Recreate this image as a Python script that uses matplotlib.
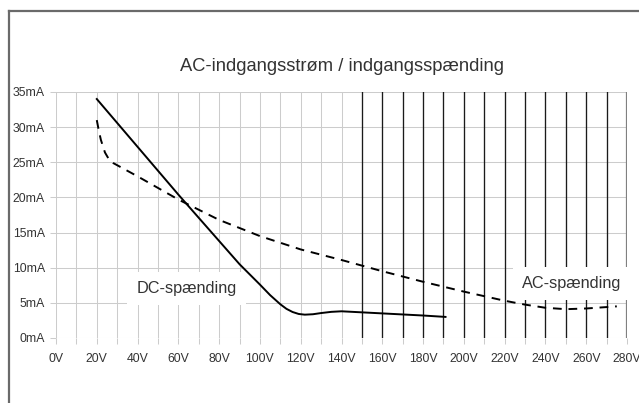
import matplotlib.pyplot as plt
from matplotlib.lines import Line2D
import numpy as np

plt.rcParams['font.family'] = ['Liberation Sans', 'DejaVu Sans']

# input current vs. input voltage, DC and AC supply
dc_volt = [20, 40, 60, 80, 90, 100, 105, 110, 113, 116, 119, 122, 126, 130, 135, 140,
           160, 180, 191]
dc_ma = [34, 27.2, 20.4, 13.8, 10.5, 7.6, 6.1, 4.8, 4.15, 3.7, 3.42, 3.32, 3.38, 3.55,
         3.72, 3.8, 3.5, 3.2, 3.0]

ac_volt = [20, 21, 22, 24, 26, 28, 40, 60, 80, 100, 120, 140, 160, 180, 200, 220, 230,
           240, 250, 260, 275]
ac_ma = [31, 29.5, 28.2, 26.4, 25.4, 24.9, 23, 19.7, 16.8, 14.5, 12.6, 11.1, 9.5, 8.0,
         6.6, 5.3, 4.75, 4.3, 4.1, 4.2, 4.5]

x_major = list(range(0, 281, 20))
x_minor = list(range(10, 280, 20))
y_ticks = list(range(0, 36, 5))
dark_lines = list(range(150, 271, 10))

title = 'AC-indgangsstrøm / indgangsspænding'
dc_label = 'DC-spænding'
ac_label = 'AC-spænding'

txt = '#333333'
light = '#cccccc'

fig = plt.figure(figsize=(6.39, 4.03), dpi=100)
ax = fig.add_axes([56 / 639, 65 / 403, 571 / 639, 246 / 403])

ax.set_xlim(0, 280)
ax.set_ylim(0, 35)
ax.set_xticks(x_major)
ax.set_xticks(x_minor, minor=True)
ax.set_xticklabels([f'{v}V' for v in x_major])
ax.set_yticks(y_ticks)
ax.set_yticklabels([f'{v}mA' for v in y_ticks])
ax.tick_params(which='both', length=4, width=0.75, color=light, labelcolor=txt,
               labelsize=8.8)
ax.tick_params(axis='x', pad=7)
ax.tick_params(axis='y', pad=4)
ax.grid(which='both', color=light, linewidth=0.75)
for s in ax.spines.values():
    s.set_visible(False)

for v in dark_lines:
    ax.axvline(v, color='#1a1a1a', linewidth=0.95, zorder=1.5)
ax.axvline(280, color='#808080', linewidth=1.6, zorder=1.5)
ax.set_axisbelow(True)

ax.plot(dc_volt, dc_ma, color='black', linewidth=1.4, zorder=4)
ax.plot(ac_volt, ac_ma, color='black', linewidth=1.4, linestyle=(0, (4.5, 3.5)),
        zorder=4)

box = dict(boxstyle='square,pad=0.55', facecolor='white', edgecolor='none')
ax.text(64, 7.1, dc_label, ha='center', va='center', fontsize=11.7, color=txt,
        bbox=box, zorder=3)
ax.text(253, 7.8, ac_label, ha='center', va='center', fontsize=11.7, color=txt,
        bbox=box, zorder=3)

ax.set_title(title, fontsize=13.2, color=txt, pad=15)

# outer frame: top and left edges only
fig.add_artist(Line2D([9 / 639, 1], [1 - 11 / 403, 1 - 11 / 403],
                      color='#6a6a6a', linewidth=1.6))
fig.add_artist(Line2D([9 / 639, 9 / 639], [0, 1 - 11 / 403],
                      color='#6a6a6a', linewidth=1.6))

fig.savefig('out.png', dpi=100, facecolor='white')
